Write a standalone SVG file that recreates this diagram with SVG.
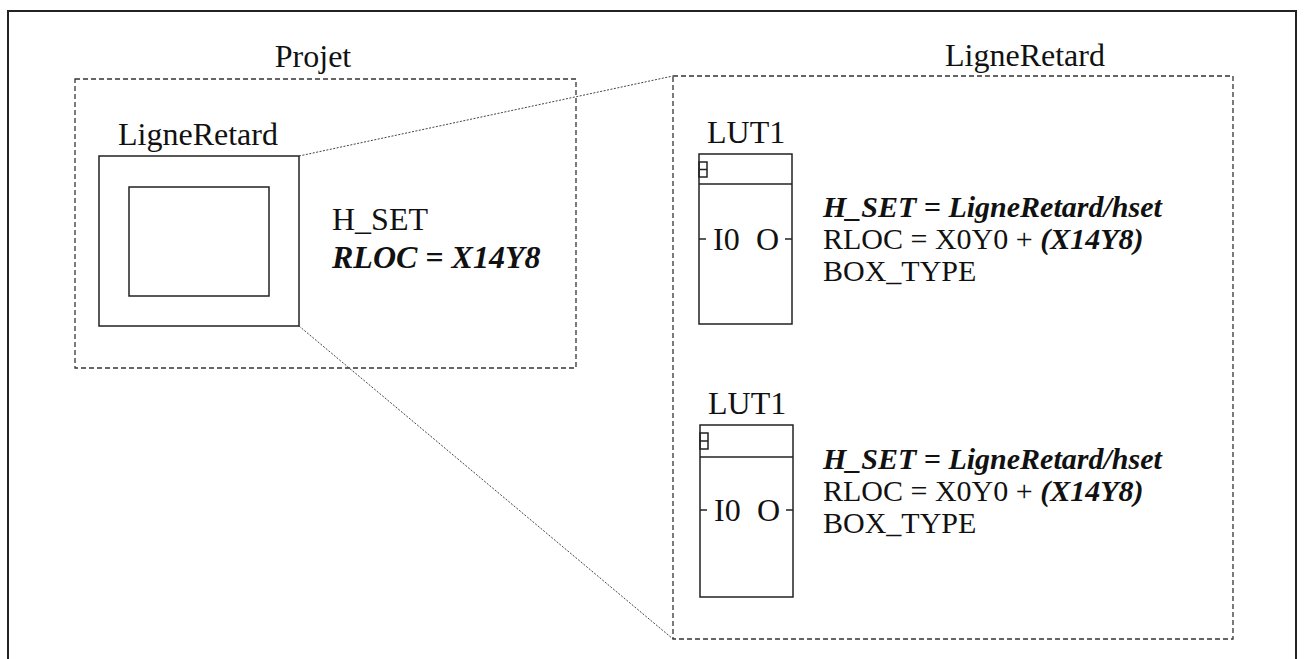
<svg xmlns="http://www.w3.org/2000/svg" width="1304" height="659" viewBox="0 0 1304 659">
<style>
text{font-family:"Liberation Serif","Times New Roman",serif;font-size:32px;fill:#111}
.bi{font-weight:bold;font-style:italic}
.attr{font-size:30px}
.solid{fill:none;stroke:#222;stroke-width:1.5}
.dash{fill:none;stroke:#333;stroke-width:1.3;stroke-dasharray:5 3}
.dot{fill:none;stroke:#444;stroke-width:1;stroke-dasharray:2 1.5}
</style>
<rect x="0" y="0" width="1304" height="659" fill="#fff"/>
<path d="M8,662 V11 H1296 V662" fill="none" stroke="#222" stroke-width="2"/>

<g id="projet">
  <rect class="dash" x="75" y="79" width="501" height="289"/>
  <text x="313" y="67" text-anchor="middle">Projet</text>
</g>
<g id="ligneretard-instance">
  <text x="118" y="145">LigneRetard</text>
  <rect class="solid" x="99" y="156" width="200" height="170"/>
  <rect class="solid" x="129" y="187" width="140" height="109"/>
  <text x="332" y="230">H_SET</text>
  <text class="bi" x="332" y="268">RLOC = X14Y8</text>
</g>
<g id="ligneretard-detail">
  <rect class="dash" x="673" y="76" width="560" height="563"/>
  <text x="1025" y="66" text-anchor="middle">LigneRetard</text>
</g>
<g id="lut1-top">
  <text x="707" y="143">LUT1</text>
  <rect class="solid" x="699" y="154" width="93" height="170"/>
  <line class="solid" x1="699" y1="184" x2="792" y2="184"/>
  <rect class="solid" x="699" y="162" width="8" height="15"/>
  <line class="solid" x1="699" y1="169.5" x2="707" y2="169.5"/>
  <line class="solid" x1="699" y1="239" x2="706" y2="239"/>
  <line class="solid" x1="785" y1="239" x2="792" y2="239"/>
  <text x="713" y="250">I0</text>
  <text x="756" y="250">O</text>
  <text class="bi attr" x="823" y="217">H_SET = LigneRetard/hset</text>
  <text class="attr" x="823" y="249">RLOC = X0Y0 + <tspan class="bi">(X14Y8)</tspan></text>
  <text class="attr" x="823" y="281">BOX_TYPE</text>
</g>
<g id="lut1-bottom">
  <text x="708" y="414">LUT1</text>
  <rect class="solid" x="700" y="425" width="93" height="172"/>
  <line class="solid" x1="700" y1="457" x2="793" y2="457"/>
  <rect class="solid" x="700" y="433" width="8" height="16"/>
  <line class="solid" x1="700" y1="441" x2="708" y2="441"/>
  <line class="solid" x1="700" y1="510" x2="707" y2="510"/>
  <line class="solid" x1="786" y1="510" x2="793" y2="510"/>
  <text x="714" y="521">I0</text>
  <text x="757" y="521">O</text>
  <text class="bi attr" x="823" y="469">H_SET = LigneRetard/hset</text>
  <text class="attr" x="823" y="501">RLOC = X0Y0 + <tspan class="bi">(X14Y8)</tspan></text>
  <text class="attr" x="823" y="533">BOX_TYPE</text>
</g>
<g id="connectors">
  <line class="dot" x1="299" y1="156" x2="673" y2="76"/>
  <line class="dot" x1="299" y1="326" x2="673" y2="639"/>
</g>
</svg>
